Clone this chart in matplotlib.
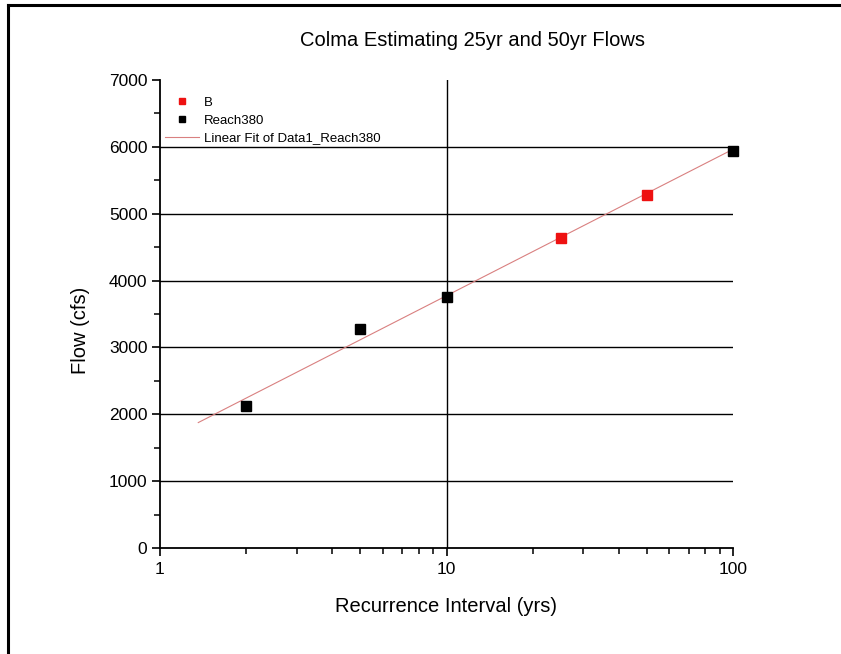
import numpy as np
import matplotlib
matplotlib.use("Agg")
import matplotlib.pyplot as plt
from matplotlib.ticker import LogLocator, NullFormatter, FixedLocator, MultipleLocator

plt.rcParams['font.family'] = ['Liberation Sans', 'DejaVu Sans']

# Data
b_x = [25, 50]
b_y = [4630, 5280]
reach_x = [2, 5, 10, 100]
reach_y = [2130, 3280, 3750, 5935]
fit_range = [1.36, 100]
y_ticks = [0, 1000, 2000, 3000, 4000, 5000, 6000, 7000]
x_ticks = [1, 10, 100]
x_ticklabels = ['1', '10', '100']

W, H = 841, 654
fig = plt.figure(figsize=(W / 100, H / 100), dpi=100)
fig.patch.set_facecolor('white')

# border lines (top and left)
fig.add_artist(plt.Line2D([8 / W, 1], [1 - 5 / H, 1 - 5 / H], color='black', lw=2.2,
                          transform=fig.transFigure))
fig.add_artist(plt.Line2D([8 / W, 8 / W], [0, 1 - 5 / H], color='black', lw=2.2,
                          transform=fig.transFigure))

ax = fig.add_axes([160 / W, 1 - 548 / H, (733 - 160) / W, (548 - 80) / H])
ax.set_xscale('log')
ax.set_xlim(1, 100)
ax.set_ylim(0, 7000)

# gridlines
for yv in y_ticks[1:-1]:
    ax.axhline(yv, color='black', lw=1.0, zorder=1)
ax.axvline(10, color='black', lw=1.0, zorder=1)

# fit
coef = np.polyfit(np.log10(reach_x), reach_y, 1)
fx = np.logspace(np.log10(fit_range[0]), np.log10(fit_range[1]), 50)
fy = np.polyval(coef, np.log10(fx))
hf, = ax.plot(fx, fy, color='#d98080', lw=0.8, zorder=2, label='Linear Fit of Data1_Reach380')

hb, = ax.plot(b_x, b_y, 's', color='#ee1111', ms=6.8, mec='#ee1111', zorder=3, label='B', clip_on=False)
hr, = ax.plot(reach_x, reach_y, 's', color='black', ms=6.8, zorder=3, label='Reach380', clip_on=False)

for s in ['top', 'right']:
    ax.spines[s].set_visible(False)
for s in ['left', 'bottom']:
    ax.spines[s].set_linewidth(1.3)

ax.yaxis.set_major_locator(FixedLocator(y_ticks))
ax.yaxis.set_minor_locator(MultipleLocator(500))
ax.set_yticklabels([str(v) for v in y_ticks])
ax.xaxis.set_major_locator(FixedLocator(x_ticks))
ax.set_xticklabels(x_ticklabels)
ax.xaxis.set_minor_locator(LogLocator(base=10, subs=np.arange(2, 10)))
ax.xaxis.set_minor_formatter(NullFormatter())
ax.tick_params(axis='both', which='major', direction='out', length=6, width=1.2,
               labelsize=12.5, colors='black', pad=3)
ax.tick_params(axis='both', which='minor', direction='out', length=4, width=1.1)
ax.tick_params(axis='x', which='major', pad=4)

leg = ax.legend([hb, hr, hf], ['B', 'Reach380', 'Linear Fit of Data1_Reach380'],
                loc='upper left', bbox_to_anchor=(-0.008, 0.984), frameon=False,
                fontsize=9.5, handlelength=2.6, handletextpad=0.4, labelspacing=0.42,
                markerscale=0.7, borderaxespad=0.3)
leg.set_zorder(10)

fig.text(472 / W, 1 - 40 / H, 'Colma Estimating 25yr and 50yr Flows', ha='center', va='center',
         fontsize=14.5)
fig.text(80 / W, 1 - 330 / H, 'Flow (cfs)', ha='center', va='center', rotation=90, fontsize=14.5)
fig.text(446 / W, 1 - 607 / H, 'Recurrence Interval (yrs)', ha='center', va='center', fontsize=14.5)

fig.savefig('out.png', dpi=100, facecolor='white')
